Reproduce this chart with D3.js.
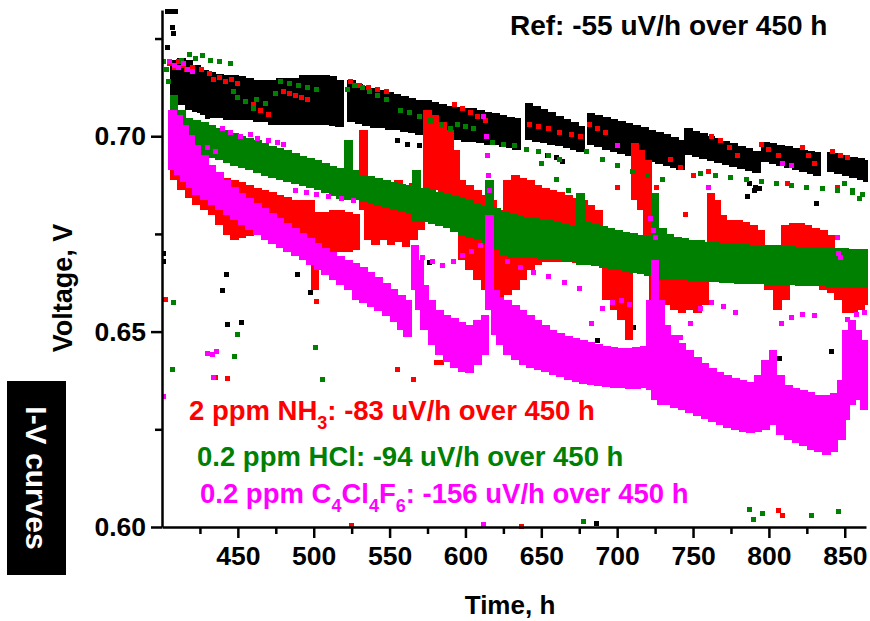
<!DOCTYPE html>
<html>
<head>
<meta charset="utf-8" />
<script src="https://d3js.org/d3.v7.min.js"></script>
<style>
    body { margin: 0; background: #fff; }
    text { font-family: "Liberation Sans", Arial, sans-serif; font-weight: bold; }
    .axis path, .axis line { stroke: #000; stroke-width: 2.5px; }
</style>
</head>
<body>
<svg id="chart" width="870" height="621"></svg>
<script>
// ---- data ----
// bands: [time h, upper V, lower V] -- dense clouds of points, one 5 h bin each
var refBand = [
    [405,0.7195,0.7093],[410,0.7201,0.7080],[415,0.7195,0.7067],[420,0.7183,0.7062],[425,0.7170,0.7055],
    [430,0.7165,0.7047],[435,0.7160,0.7047],[440,0.7157,0.7042],[445,0.7157,0.7042],[450,0.7154,0.7042],
    [455,0.7149,0.7042],[460,0.7144,0.7037],[465,0.7144,0.7037],[470,0.7144,0.7029],[475,0.7149,0.7029],
    [480,0.7149,0.7029],[485,0.7149,0.7029],[490,0.7157,0.7029],[495,0.7157,0.7029],[500,0.7157,0.7029],
    [505,0.7157,0.7029],[510,0.7154,0.7026],[514,0.7144,0.7024],
    [522,0.7144,0.7037],[527,0.7134,0.7031],[532,0.7129,0.7026],[537,0.7124,0.7021],[542,0.7119,0.7021],
    [547,0.7113,0.7016],[552,0.7108,0.7016],[557,0.7103,0.7011],[562,0.7098,0.7008],[567,0.7093,0.7003],
    [572,0.7093,0.7003],[577,0.7088,0.6998],[582,0.7083,0.6996],[587,0.7078,0.6991],[592,0.7075,0.6991],
    [597,0.7072,0.6985],[602,0.7072,0.6985],[607,0.7067,0.6983],[612,0.7062,0.6978],[617,0.7060,0.6978],
    [622,0.7055,0.6973],[627,0.7049,0.6970],[631,0.7047,0.6965],
    [639,0.7085,0.6991],[644,0.7078,0.6985],[649,0.7070,0.6983],[654,0.7062,0.6978],[659,0.7052,0.6975],
    [664,0.7044,0.6970],[669,0.7037,0.6965],[673,0.7026,0.6960],
    [680,0.7060,0.6978],[685,0.7055,0.6973],[690,0.7049,0.6965],[695,0.7044,0.6960],[700,0.7039,0.6955],
    [705,0.7034,0.6949],[710,0.7029,0.6944],[715,0.7024,0.6939],[720,0.7016,0.6934],[725,0.7011,0.6929],
    [730,0.7006,0.6924],[735,0.6998,0.6919],[739,0.6991,0.6914],
    [744,0.7021,0.6952],[749,0.7014,0.6947],[754,0.7008,0.6942],[759,0.7001,0.6937],[764,0.6996,0.6932],
    [769,0.6988,0.6926],[774,0.6983,0.6921],[779,0.6975,0.6916],[784,0.6970,0.6911],[789,0.6962,0.6906],
    [795,0.6985,0.6934],[800,0.6983,0.6929],[805,0.6978,0.6924],[810,0.6975,0.6919],[815,0.6970,0.6914],
    [820,0.6965,0.6909],[825,0.6962,0.6903],[829,0.6960,0.6898],
    [838,0.6960,0.6909],[843,0.6957,0.6903],[848,0.6952,0.6898],[853,0.6947,0.6893],[858,0.6944,0.6888],
    [862,0.6939,0.6883]
];
var refPoints = [
    [403.5,0.7318],[406,0.7318],[409,0.7318],[407,0.7279],[407.5,0.7264],[403.6,0.7226],
    [401,0.6700],[401,0.6680],[420.7,0.7093],[425,0.7067],[430,0.7050],
    [442.5,0.6646],[440,0.6604],[443,0.6517],[452.3,0.6524],[489.6,0.6645],[497.7,0.6599],[576.3,0.6678],
    [555,0.6990],[562,0.6980],[570,0.6975],[654,0.6950],[660,0.6945],[664,0.6935],
    [687,0.6478],[701.8,0.6440],[710.6,0.6510],[806.8,0.6430],[841,0.6448],
    [786,0.6845],[790.7,0.6862],[831.6,0.6829],[787,0.6880],[791,0.6870],[794,0.6865],[686.6,0.6010]
];

var nh3Band = [
    [405,0.6939,0.6888],[410,0.6934,0.6862],[415,0.6926,0.6842],[420,0.6914,0.6824],[425,0.6909,0.6811],
    [430,0.6903,0.6798],[435,0.6898,0.6773],[440,0.6893,0.6747],[445,0.6888,0.6734],[450,0.6883,0.6739],
    [455,0.6875,0.6745],[460,0.6868,0.6747],[465,0.6862,0.6742],[470,0.6857,0.6739],[475,0.6850,0.6734],
    [480,0.6845,0.6729],[485,0.6837,0.6727],[490,0.6837,0.6724],[495,0.6837,0.6721],[498,0.6760,0.6606],
    [500,0.6806,0.6704],[505,0.6806,0.6704],[510,0.6811,0.6704],[515,0.6811,0.6704],[520,0.6806,0.6704],
    [525,0.6801,0.6709],[530,0.7016,0.6811],[533,0.6888,0.6734],[538,0.6883,0.6721],[543,0.6888,0.6734],
    [548,0.6875,0.6721],[553,0.6888,0.6729],[558,0.6875,0.6716],[563,0.6880,0.6734],[568,0.6862,0.6760],
    [572,0.7067,0.6862],[577,0.7055,0.6862],[582,0.7037,0.6850],[587,0.7016,0.6837],[591,0.6965,0.6760],
    [595,0.6888,0.6683],[600,0.6875,0.6657],[605,0.6862,0.6632],[610,0.6850,0.6606],[615,0.6837,0.6581],
    [620,0.6811,0.6588],[625,0.6888,0.6593],[630,0.6901,0.6606],[635,0.6893,0.6632],[640,0.6888,0.6657],
    [645,0.6875,0.6670],[650,0.6868,0.6678],[655,0.6862,0.6678],[660,0.6857,0.6678],[665,0.6850,0.6678],
    [670,0.6842,0.6675],[675,0.6837,0.6670],[680,0.6824,0.6709],[685,0.6811,0.6696],[690,0.6734,0.6581],
    [695,0.6721,0.6555],[700,0.6709,0.6529],[705,0.6696,0.6478],[709,0.6983,0.6837],[713,0.6965,0.6811],
    [717,0.6939,0.6734],[721,0.6837,0.6581],[725,0.6734,0.6581],[730,0.6709,0.6568],[735,0.6688,0.6555],
    [740,0.6683,0.6547],[745,0.6683,0.6555],[750,0.6678,0.6547],[755,0.6688,0.6568],[759,0.6855,0.6683],
    [763,0.6837,0.6683],[767,0.6798,0.6683],[772,0.6786,0.6678],[777,0.6786,0.6683],[782,0.6780,0.6678],
    [787,0.6773,0.6670],[792,0.6760,0.6645],[797,0.6721,0.6606],[803,0.6683,0.6555],[808,0.6773,0.6581],
    [813,0.6778,0.6632],[818,0.6778,0.6683],[823,0.6773,0.6691],[828,0.6765,0.6683],[833,0.6760,0.6606],
    [838,0.6747,0.6599],[843,0.6709,0.6581],[848,0.6632,0.6547],[853,0.6624,0.6547],[858,0.6632,0.6555],
    [862,0.6645,0.6568]
];
var nh3Points = [
    [405,0.7185],[408,0.7175],[411,0.7190],[416,0.7170],
    [414,0.7180],[420,0.7175],[426,0.7170],[431,0.7160],[434,0.7145],[438,0.7150],[442,0.7140],[446,0.7145],
    [450,0.7135],[460,0.7080],[465,0.7065],[470,0.7055],[480,0.7115],[484,0.7110],[488,0.7105],[492,0.7100],
    [496,0.7095],[524,0.7140],[530,0.7130],[536,0.7125],[542,0.7120],[548,0.7115],
    [593,0.7080],[598,0.7070],[603,0.7060],[608,0.7050],[613,0.7040],
    [642,0.7030],[648,0.7025],[655,0.7020],[662,0.7010],[670,0.7005],[676,0.7000],
    [682,0.7030],[687,0.7020],[692,0.7010],[735,0.6940],[742,0.6920],[750,0.6900],
    [762,0.7000],[768,0.6990],[774,0.6970],[779,0.6950],[795,0.6980],[800,0.6965],[806,0.6950],
    [822,0.6970],[826,0.6950],[830,0.6930],[842,0.6960],[847,0.6950],[852,0.6945],
    [640,0.6850],[700,0.6870],[726,0.6870],[745,0.6800],[760,0.6910],[812,0.6880],[845,0.6870],
    [402,0.6582],[502,0.6578],[555,0.6404],[565.6,0.6378],[586,0.6452],[581,0.6422],[584.5,0.6420],
    [435,0.6383],[443,0.6380],[524.7,0.6004],[637,0.6002],[806,0.6043],[809,0.6030]
];

var hclBand = [
    [405,0.7106,0.7003],[410,0.7067,0.6978],[415,0.7047,0.6965],[420,0.7042,0.6957],[425,0.7037,0.6949],
    [430,0.7029,0.6944],[435,0.7021,0.6939],[440,0.7016,0.6932],[445,0.7008,0.6924],[450,0.7001,0.6919],
    [455,0.6996,0.6914],[460,0.6991,0.6906],[465,0.6983,0.6898],[470,0.6975,0.6893],[475,0.6970,0.6888],
    [480,0.6965,0.6883],[485,0.6957,0.6878],[490,0.6949,0.6873],[495,0.6944,0.6868],[500,0.6939,0.6862],
    [505,0.6932,0.6855],[510,0.6924,0.6847],[515,0.6919,0.6839],[520,0.6991,0.6837],[525,0.6914,0.6837],
    [530,0.6901,0.6832],[535,0.6898,0.6827],[540,0.6893,0.6822],[545,0.6888,0.6816],[550,0.6883,0.6811],
    [555,0.6878,0.6806],[560,0.6873,0.6801],[565,0.6914,0.6780],[570,0.6868,0.6780],[575,0.6862,0.6775],
    [580,0.6857,0.6770],[585,0.6852,0.6765],[590,0.6847,0.6755],[595,0.6842,0.6745],[600,0.6837,0.6739],
    [605,0.6829,0.6734],[610,0.6824,0.6727],[613,0.6888,0.6721],[618,0.6816,0.6709],[623,0.6806,0.6696],
    [628,0.6803,0.6691],[633,0.6798,0.6688],[638,0.6793,0.6688],[643,0.6791,0.6688],[648,0.6788,0.6686],
    [653,0.6786,0.6683],[658,0.6780,0.6683],[663,0.6775,0.6681],[668,0.6770,0.6678],[673,0.6855,0.6670],
    [678,0.6780,0.6670],[683,0.6775,0.6668],[688,0.6770,0.6663],[693,0.6765,0.6660],[698,0.6760,0.6657],
    [703,0.6755,0.6652],[708,0.6752,0.6650],[713,0.6747,0.6647],[718,0.6745,0.6642],[722,0.6855,0.6637],
    [727,0.6765,0.6632],[732,0.6750,0.6632],[737,0.6742,0.6632],[742,0.6739,0.6632],[747,0.6734,0.6629],
    [752,0.6734,0.6629],[757,0.6729,0.6627],[762,0.6729,0.6627],[767,0.6727,0.6624],[772,0.6727,0.6624],
    [777,0.6724,0.6622],[782,0.6724,0.6622],[787,0.6721,0.6622],[792,0.6721,0.6622],[797,0.6721,0.6619],
    [802,0.6721,0.6619],[807,0.6719,0.6619],[812,0.6719,0.6619],[817,0.6716,0.6616],[822,0.6716,0.6616],
    [827,0.6716,0.6616],[832,0.6716,0.6616],[837,0.6714,0.6614],[842,0.6714,0.6614],[847,0.6714,0.6614],
    [852,0.6711,0.6611],[857,0.6711,0.6611],[862,0.6711,0.6611]
];
var hclPoints = [
    [401,0.7190],[403,0.7170],[404,0.7140],
    [413,0.7195],[418,0.7208],[422,0.7200],[427,0.7206],[432,0.7195],[438,0.7190],[445,0.7185],
    [447,0.7115],[450,0.7100],[455,0.7090],[460,0.7070],[462,0.7095],[468,0.7085],[475,0.7110],
    [478,0.7140],[484,0.7135],[490,0.7130],[496,0.7125],[502,0.7120],
    [522,0.7120],[527,0.7130],[532,0.7125],[537,0.7115],[542,0.7105],[548,0.7095],
    [557,0.7065],[563,0.7060],[570,0.7050],[577,0.7040],[584,0.7030],[590,0.7020],
    [595,0.7030],[600,0.7025],[605,0.7020],
    [618,0.6985],[625,0.6980],[632,0.6975],[640,0.6965],[648,0.6960],[655,0.6950],[662,0.6940],
    [650,0.6930],[660,0.6890],[668,0.6860],
    [680,0.6960],[690,0.6940],[700,0.6925],[710,0.6910],[720,0.6900],[730,0.6890],
    [755,0.6905],[765,0.6900],[775,0.6895],[785,0.6890],[795,0.6885],
    [805,0.6880],[815,0.6875],[825,0.6870],[835,0.6865],[845,0.6860],[855,0.6855],[862,0.6850],
    [850,0.6880],[855,0.6860],[860,0.6840],
    [407.6,0.6574],[407,0.6402],[449.7,0.6493],[448,0.6437],[501,0.6460],[505.6,0.6378],
    [787,0.6045],[790,0.6020],[796,0.6035],[828,0.6030],[846,0.6040],[678,0.6015]
];

var c4Band = [
    [404,0.7067,0.6914],[408,0.7055,0.6901],[412,0.7029,0.6883],[416,0.7003,0.6868],[420,0.6978,0.6850],
    [425,0.6952,0.6837],[430,0.6926,0.6824],[435,0.6909,0.6811],[440,0.6888,0.6798],[445,0.6870,0.6786],
    [450,0.6855,0.6773],[455,0.6842,0.6760],[460,0.6829,0.6747],[465,0.6816,0.6734],[470,0.6803,0.6724],
    [475,0.6791,0.6714],[480,0.6778,0.6704],[485,0.6765,0.6693],[490,0.6752,0.6683],[495,0.6739,0.6670],
    [500,0.6727,0.6657],[505,0.6714,0.6645],[510,0.6704,0.6632],[515,0.6693,0.6619],[520,0.6683,0.6606],
    [525,0.6675,0.6581],[530,0.6665,0.6573],[535,0.6652,0.6563],[540,0.6640,0.6552],[545,0.6624,0.6540],
    [550,0.6609,0.6524],[555,0.6593,0.6504],[559,0.6581,0.6486],[564,0.6721,0.6606],[567,0.6683,0.6555],
    [570,0.6619,0.6504],[575,0.6581,0.6465],[580,0.6555,0.6440],[585,0.6542,0.6422],[590,0.6534,0.6406],
    [595,0.6524,0.6396],[600,0.6516,0.6394],[605,0.6529,0.6414],[610,0.6542,0.6440],[613,0.6798,0.6555],
    [617,0.6606,0.6491],[620,0.6588,0.6465],[625,0.6581,0.6440],[630,0.6568,0.6427],[635,0.6555,0.6414],
    [640,0.6542,0.6406],[645,0.6529,0.6401],[650,0.6516,0.6396],[655,0.6504,0.6388],[660,0.6496,0.6383],
    [665,0.6488,0.6376],[670,0.6483,0.6370],[675,0.6478,0.6365],[680,0.6473,0.6363],[685,0.6468,0.6360],
    [690,0.6463,0.6358],[695,0.6460,0.6355],[700,0.6458,0.6355],[705,0.6458,0.6353],[710,0.6460,0.6353],
    [715,0.6463,0.6355],[719,0.6581,0.6350],[722,0.6683,0.6325],[726,0.6581,0.6312],[730,0.6516,0.6312],
    [735,0.6491,0.6304],[740,0.6470,0.6299],[745,0.6453,0.6291],[750,0.6435,0.6284],[755,0.6419,0.6276],
    [760,0.6406,0.6268],[765,0.6396,0.6261],[770,0.6388,0.6253],[775,0.6381,0.6248],[780,0.6376,0.6243],
    [785,0.6370,0.6240],[790,0.6388,0.6243],[795,0.6427,0.6248],[800,0.6453,0.6261],[805,0.6388,0.6235],
    [810,0.6363,0.6222],[815,0.6355,0.6214],[820,0.6350,0.6207],[825,0.6345,0.6196],[830,0.6337,0.6191],
    [835,0.6337,0.6184],[840,0.6342,0.6191],[845,0.6376,0.6222],[848,0.6504,0.6273],[852,0.6529,0.6312],
    [856,0.6504,0.6325],[860,0.6478,0.6299]
];
var c4Points = [
    [405,0.7190],[408,0.7180],[411,0.7175],[414,0.7185],[417,0.7170],[420,0.7165],
    [430,0.6970],[435,0.6960],[440,0.7020],[445,0.7010],[452,0.7000],[458,0.7005],[463,0.6995],[470,0.6990],
    [476,0.6985],[480,0.6980],[488,0.6860],[495,0.6855],[502,0.6850],[510,0.6845],[518,0.6840],[526,0.6835],
    [572,0.6690],[578,0.6680],[585,0.6670],[592,0.6680],[598,0.6695],[604,0.6705],[610,0.6720],
    [628,0.6680],[636,0.6665],[645,0.6650],[655,0.6640],[665,0.6625],[675,0.6610],
    [678,0.6470],[683,0.6520],[690,0.6560],[697,0.6575],[703,0.6580],[708,0.6570],
    [742,0.6485],[748,0.6520],[755,0.6560],[762,0.6575],[770,0.6565],[778,0.6550],
    [808,0.6520],[815,0.6535],[822,0.6545],[830,0.6540],[852,0.6530],[858,0.6545],[863,0.6550],
    [430,0.6445],[433,0.6442],[436,0.6448],[434,0.6383],
    [722,0.6790],[724,0.6760],[725,0.6740],[845,0.6740],[846,0.6700],[847,0.6690],
    [612,0.7050],[614,0.7000],[614.5,0.6950],[615,0.6900],[616,0.6860],
    [700,0.6975],[809,0.6930],[815,0.6925],[760,0.6870],[612,0.6007],[401,0.6335]
];

var xMajorTicks = [450, 500, 550, 600, 650, 700, 750, 800, 850];
var xMinorTicks = [425, 475, 525, 575, 625, 675, 725, 775, 825];
var yMajorTicks = [0.60, 0.65, 0.70];
var yMinorTicks = [0.625, 0.675, 0.725];

var seriesColors = ["#000000", "#ff0000", "#008000", "#ff00ff"];
var refNote = "Ref: -55 uV/h over 450 h";
// legend text pieces: [text, subscript?]
var nh3Label = [["2 ppm NH", false], ["3", true], [": -83 uV/h over 450 h", false]];
var hclLabel = [["0.2 ppm HCl: -94 uV/h over 450 h", false]];
var c4Label = [["0.2 ppm C", false], ["4", true], ["Cl", false], ["4", true], ["F", false], ["6", true],
               [": -156 uV/h over 450 h", false]];

// ---- drawing ----
var svg = d3.select("#chart");
var x = d3.scaleLinear().domain([400, 864]).range([162, 866]);
var y = d3.scaleLinear().domain([0.60, 0.7323]).range([527, 10]);
var binH = 5;
var dot = 5;

svg.append("rect").attr("width", 870).attr("height", 621).attr("fill", "#fff");

svg.append("clipPath").attr("id", "plotClip")
    .append("rect").attr("x", 162).attr("y", 0).attr("width", 706).attr("height", 529);

var plot = svg.append("g").attr("clip-path", "url(#plotClip)").attr("shape-rendering", "crispEdges");

function drawSeries(band, points, color) {
    var g = plot.append("g");
    g.selectAll(".band").data(band).enter().append("rect")
        .attr("x", function(d) { return x(d[0]); })
        .attr("width", function(d) { return x(d[0] + binH) - x(d[0]) + 1; })
        .attr("y", function(d) { return y(Math.max(d[1], d[2])); })
        .attr("height", function(d) { return Math.abs(y(d[2]) - y(d[1])); })
        .attr("fill", color);
    g.selectAll(".pt").data(points).enter().append("rect")
        .attr("x", function(d) { return x(d[0]) - dot / 2; })
        .attr("y", function(d) { return y(d[1]) - dot / 2; })
        .attr("width", dot).attr("height", dot)
        .attr("fill", color);
}

drawSeries(refBand, refPoints, seriesColors[0]);
drawSeries(nh3Band, nh3Points, seriesColors[1]);
drawSeries(hclBand, hclPoints, seriesColors[2]);
drawSeries(c4Band, c4Points, seriesColors[3]);

// axes
svg.append("g").attr("class", "axis").attr("transform", "translate(0,527)")
    .call(d3.axisBottom(x).tickValues(xMajorTicks).tickSize(11).tickSizeOuter(0).tickPadding(8)
        .tickFormat(d3.format("d")));
svg.append("g").attr("class", "axis").attr("transform", "translate(0,527)")
    .call(d3.axisBottom(x).tickValues(xMinorTicks).tickSize(7).tickFormat(""))
    .select(".domain").remove();

svg.append("g").attr("class", "axis").attr("transform", "translate(162,0)")
    .call(d3.axisLeft(y).tickValues(yMajorTicks).tickSize(11).tickSizeOuter(0).tickPadding(5)
        .tickFormat(d3.format(".2f")));
svg.append("g").attr("class", "axis").attr("transform", "translate(162,0)")
    .call(d3.axisLeft(y).tickValues(yMinorTicks).tickSize(7).tickFormat(""))
    .select(".domain").remove();

svg.selectAll(".axis text")
    .style("font-family", "'Liberation Sans', Arial, sans-serif")
    .style("font-weight", "bold")
    .style("font-size", "26.5px")
    .attr("fill", "#000");

// titles
svg.append("text").attr("x", 510).attr("y", 614).attr("text-anchor", "middle")
    .style("font-size", "26px").text("Time, h");

svg.append("text").attr("transform", "translate(72,288) rotate(-90)").attr("text-anchor", "middle")
    .style("font-size", "27px").text("Voltage, V");

svg.append("text").attr("x", 510).attr("y", 35).style("font-size", "28px").text(refNote);

function addLabel(parts, lx, ly, color) {
    var t = svg.append("text").attr("x", lx).attr("y", ly).attr("fill", color).style("font-size", "27.5px");
    var shifted = false;
    parts.forEach(function(p) {
        var s = t.append("tspan").text(p[0]);
        if (p[1]) {
            s.attr("dy", shifted ? 0 : 9).style("font-size", "18px");
            shifted = true;
        } else {
            s.attr("dy", shifted ? -9 : 0);
            shifted = false;
        }
    });
}
addLabel(nh3Label, 189, 420, seriesColors[1]);
addLabel(hclLabel, 197, 466, seriesColors[2]);
addLabel(c4Label, 200, 503, seriesColors[3]);

// I-V curves tag
svg.append("rect").attr("x", 7).attr("y", 381).attr("width", 59).attr("height", 194).attr("fill", "#000");
svg.append("text").attr("transform", "translate(37,478) rotate(90)").attr("text-anchor", "middle")
    .attr("dy", "0.36em").attr("fill", "#fff").style("font-size", "30px").text("I-V curves");
</script>
</body>
</html>
